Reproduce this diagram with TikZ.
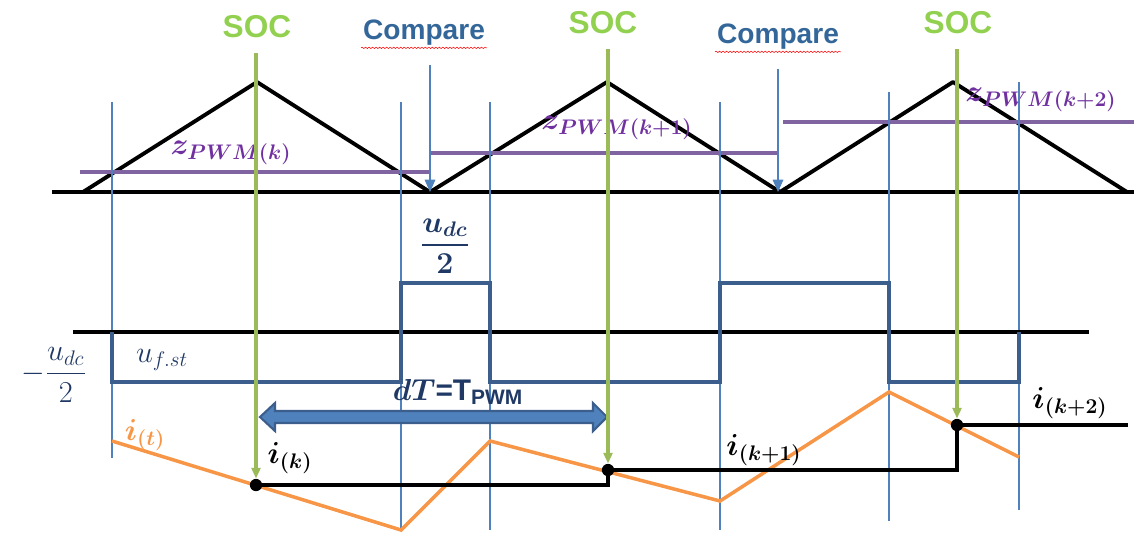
\documentclass[tikz,border=0pt]{standalone}
\usepackage{amsmath,bm}
\usepackage{fontspec}
\setsansfont{Liberation Sans}
\usetikzlibrary{arrows.meta,decorations.pathmorphing}
\definecolor{socgreen}{HTML}{92D050}
\definecolor{socline}{HTML}{9BBB59}
\definecolor{cmpblue}{HTML}{336699}
\definecolor{zpurple}{HTML}{7030A0}
\definecolor{zline}{HTML}{8064A2}
\definecolor{thinblue}{HTML}{4F81BD}
\definecolor{pwmblue}{HTML}{3C5E8C}
\definecolor{navy}{HTML}{1F3864}
\definecolor{curorange}{HTML}{F79646}
\newcommand{\bigsub}[1]{\mbox{\fontsize{13}{15}\selectfont$\bm{#1}$}}
\newcommand{\plainsub}[1]{\mbox{\fontsize{12.5}{14}\selectfont$#1$}}
\begin{document}
\begin{tikzpicture}[x=0.02cm,y=-0.02cm,
	soclab/.style={text=socgreen,font=\sffamily\bfseries\fontsize{18}{20}\selectfont},
	cmplab/.style={text=cmpblue,font=\sffamily\bfseries\fontsize{16}{18}\selectfont,inner sep=1pt},
	zlab/.style={text=zpurple,font=\fontsize{18}{20}\selectfont},
	ilab/.style={font=\fontsize{18}{20}\selectfont},
	dot/.style={circle,fill=black,inner sep=0pt,minimum size=7pt},
	tick/.style={thinblue,line width=0.8pt},
	socarrow/.style={socline,line width=2pt,-{Triangle[length=6pt,width=5pt]},shorten <=5pt},
	cmparrow/.style={thinblue,line width=0.8pt,-{Triangle[length=7pt,width=6pt]},shorten <=10pt}]
	\useasboundingbox (0,0) rectangle (1136,532);
	
	% carrier and references
	\draw[line width=2.2pt] (52,192) -- (1134,192);
	\draw[line width=2.2pt,line join=round] (83,192) -- (257,82) -- (430,192) -- (607,82) -- (780,192) -- (953,82) -- (1127,192);
	\draw[zline,line width=2pt] (80,172) -- (430,172);
	\draw[zline,line width=2pt] (430,153) -- (778,153);
	\draw[zline,line width=2pt] (783,122) -- (1134,122);
	\node[zlab] (zk) at (231,153) {$\bm{z}_{\bigsub{PWM(k)}}$};
	\node[zlab] (zk1) at (617,128) {$\bm{z}_{\bigsub{PWM(k{+}1)}}$};
	\node[zlab] (zk2) at (1041,100) {$\bm{z}_{\bigsub{PWM(k{+}2)}}$};
	
	% switching instants
	\draw[tick] (112,102) -- (112,458);
	\draw[tick] (401,102) -- (401,530);
	\draw[tick] (490,102) -- (490,530);
	\draw[tick] (720,102) -- (720,530);
	\draw[tick] (889,92) -- (889,521);
	\draw[tick] (1019,82) -- (1019,510);
	
	% compare instants
	\node[cmplab] (cmp1) at (424,33) {Compare};
	\node[cmplab] (cmp2) at (778,37) {Compare};
	\draw[red,line width=0.3pt,decorate,decoration={snake,amplitude=0.4pt,segment length=2pt}] (cmp1.south west) -- (cmp1.south east);
	\draw[red,line width=0.3pt,decorate,decoration={snake,amplitude=0.4pt,segment length=2pt}] (cmp2.south west) -- (cmp2.south east);
	\coordinate (v1) at (430,192);
	\coordinate (v2) at (778,192);
	\draw[cmparrow] (cmp1.south -| v1) -- (v1);
	\draw[cmparrow] (cmp2.south -| v2) -- (v2);
	
	% inverter voltage
	\draw[line width=2.2pt] (73,332) -- (1089,332);
	\draw[pwmblue,line width=1.8pt] (112,332) -- (112,382) -- (401,382) -- (401,283) -- (490,283) -- (490,382) -- (720,382) -- (720,283) -- (889,283) -- (889,382) -- (1019,382) -- (1019,332);
	\node[text=navy,font=\fontsize{19}{21}\selectfont] (uhi) at (445,246) {$\dfrac{\bm{u}_{\bigsub{dc}}}{\bm{2}}$};
	\node[text=navy,font=\fontsize{19}{21}\selectfont] (ulo) at (54,375) {$-\dfrac{u_{\plainsub{dc}}}{2}$};
	\node[text=navy,font=\fontsize{19}{21}\selectfont] (ufst) at (162,360) {$u_{\plainsub{f.st}}$};
	
	% sampling period
	\draw[pwmblue,fill=thinblue,line width=1.2pt] (260,417) -- (275,403) -- (275,411) -- (593,411) -- (593,403) -- (607,417) -- (593,431) -- (593,423) -- (275,423) -- (275,431) -- cycle;
	\node[text=navy,font=\fontsize{17}{19}\selectfont] (dt) at (458,392) {$\bm{dT}$\textsf{\textbf{=T}}\textsubscript{\sffamily\bfseries PWM}};
	
	% phase current and sampled values
	\draw[curorange,line width=2pt] (112,441) -- (401,530) -- (490,441) -- (720,501) -- (889,392) -- (1019,457);
	\node[text=curorange,ilab] (it) at (145,435) {$\bm{i}_{\bigsub{(t)}}$};
	\node[dot] (smp1) at (256,485) {};
	\node[dot] (smp2) at (608,470) {};
	\node[dot] (smp3) at (957,425) {};
	\coordinate (hend) at (1128,425);
	\draw[line width=2pt] (smp1.center) -- (smp1 -| smp2) -- (smp2.center) -- (smp2 -| smp3) -- (smp3.center) -- (hend);
	\node[ilab] (ik) at (290,458) {$\bm{i}_{\bigsub{(k)}}$};
	\node[ilab] (ik1) at (764,450) {$\bm{i}_{\bigsub{(k{+}1)}}$};
	\node[ilab] (ik2) at (1070,403) {$\bm{i}_{\bigsub{(k{+}2)}}$};
	
	% start of conversion
	\node[soclab] (soc1) at (257,27) {SOC};
	\node[soclab] (soc2) at (603,23) {SOC};
	\node[soclab] (soc3) at (958,23) {SOC};
	\draw[socarrow] (soc1.south -| smp1) -- (smp1);
	\draw[socarrow] (soc2.south -| smp2) -- (smp2);
	\draw[socarrow] (soc3.south -| smp3) -- (smp3);
\end{tikzpicture}
\end{document}
